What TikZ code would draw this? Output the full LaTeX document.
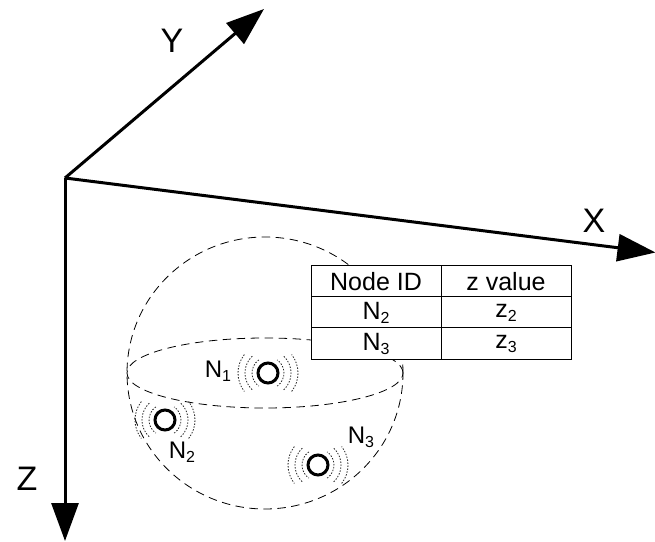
\documentclass[tikz,border=0pt]{standalone}
\usepackage{fontspec}
\setmainfont{Liberation Sans}
\usetikzlibrary{arrows.meta}
\newcommand{\lowidx}[1]{{\fontsize{16}{16}\selectfont\raisebox{-4pt}{#1}}}
\tikzstyle{axis} = [line width=3pt,-{Triangle[length=38pt,width=27pt]}]
\tikzstyle{axislabel} = [font=\fontsize{34}{34}\selectfont]
\tikzstyle{sphereline} = [line width=0.8pt,dash pattern=on 8.5pt off 5.5pt]
\tikzstyle{cell} = [rectangle, minimum width=130pt, minimum height=31pt, inner sep=0pt, outer sep=0pt, text centered, draw=black, fill=white, line width=1pt, font=\fontsize{25}{25}\selectfont, node distance=31pt]
\tikzstyle{sensor} = [circle, minimum size=20pt, inner sep=0pt, draw=black, line width=3pt]
\tikzstyle{sensorlabel} = [font=\fontsize{24}{24}\selectfont]
\tikzstyle{ripple} = [line width=0.8pt, black!85, dash pattern=on 1.5pt off 1.5pt]
\begin{document}
\begin{tikzpicture}[x=1pt,y=1pt]
\useasboundingbox (0,0) rectangle (655,541);

\coordinate (origin) at (65,363);
\coordinate (xtip) at (655.5,288.5);
\coordinate (ytip) at (264,532);
\coordinate (ztip) at (65,0);

\draw [axis] (origin) -- (xtip);
\draw [axis] (origin) -- (ytip);
\draw [axis] (origin) -- (ztip);

\node (xlabel) [axislabel] at (594,320) {X};
\node (ylabel) [axislabel] at (172,500) {Y};
\node (zlabel) [axislabel] at (27,62) {Z};

% sphere
\draw [sphereline] (265,168) ellipse (138 and 136);
\draw [sphereline] (265,168) ellipse (138 and 35);

% table
\node (head1) [cell] at (376,259.5) {Node ID};
\node (head2) [cell] at (506,259.5) {z value};
\node (id2) [cell, below of=head1] {N\lowidx{2}};
\node (val2) [cell, below of=head2] {z\lowidx{2}};
\node (id3) [cell, below of=id2] {N\lowidx{3}};
\node (val3) [cell, below of=val2] {z\lowidx{3}};

% sensors
\foreach \name/\pos in {n1/{(268,168)},n2/{(165,121)},n3/{(318,76)}} {
  \node (\name) [sensor] at \pos {};
  \foreach \rad/\ang in {16/55,23/47,30/38} {
    \draw [ripple] (\name.center) ++(-\ang:\rad) arc (-\ang:\ang:\rad);
    \draw [ripple] (\name.center) ++(180-\ang:\rad) arc (180-\ang:180+\ang:\rad);
  }
}
\node (n1label) [sensorlabel] at (218,170) {N\lowidx{1}};
\node (n2label) [sensorlabel] at (182,89) {N\lowidx{2}};
\node (n3label) [sensorlabel] at (361,104) {N\lowidx{3}};
\end{tikzpicture}
\end{document}
